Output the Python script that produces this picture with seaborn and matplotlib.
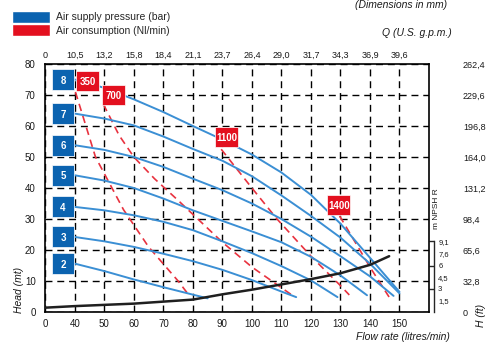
import numpy as np
import pandas as pd
import matplotlib
matplotlib.use("Agg")
import matplotlib.pyplot as plt
import matplotlib.transforms as mtransforms
from matplotlib.patches import Rectangle, Patch
import seaborn as sns

# pump curves: flow (l/min) vs head (m) for each air supply pressure (bar)
pressure_bar = [2, 3, 4, 5, 6, 7, 8]
flow_2 = [40, 50, 60, 70, 80, 85]
head_2 = [15.6, 13.2, 10.5, 8.0, 5.6, 4.4]
flow_3 = [40, 50, 60, 70, 80, 90, 100, 110, 115]
head_3 = [24.2, 22.8, 21.0, 18.8, 16.4, 13.6, 10.3, 6.6, 4.8]
flow_4 = [40, 50, 60, 70, 80, 90, 100, 110, 120, 129]
head_4 = [33.9, 32.8, 31.2, 29.1, 26.4, 22.8, 19.0, 14.8, 10.2, 4.8]
flow_5 = [40, 50, 60, 70, 80, 90, 100, 110, 120, 130, 139]
head_5 = [44.1, 42.4, 40.0, 36.6, 32.8, 29.4, 26.0, 22.5, 17.8, 11.8, 5.4]
flow_6 = [40, 50, 60, 70, 80, 90, 100, 110, 120, 130, 140, 148]
head_6 = [53.8, 52.3, 50.0, 46.8, 43.0, 39.3, 35.0, 30.0, 24.3, 18.0, 11.5, 5.2]
flow_7 = [40, 50, 60, 70, 80, 90, 100, 110, 120, 130, 140, 150]
head_7 = [64.0, 62.4, 60.2, 56.6, 52.6, 48.8, 43.8, 37.6, 31.0, 24.0, 15.6, 6.0]
flow_8 = [40, 50, 60, 70, 80, 90, 100, 110, 120, 130, 140, 150]
head_8 = [75.0, 72.3, 68.6, 64.5, 60.0, 55.6, 50.8, 45.0, 37.8, 28.5, 17.5, 6.5]

# air consumption lines (Nl/min)
air_nl = [350, 700, 1100, 1400]
air_flow_350 = [40.2, 47, 56.5, 65, 75, 79]
air_head_350 = [71, 50, 33, 21, 10, 5]
air_flow_700 = [49.7, 55, 60, 67, 75, 80, 90, 100, 113.5]
air_head_700 = [67, 57, 50, 43, 36, 31.5, 22.5, 14.5, 5.5]
air_flow_1100 = [89.6, 100, 108.5, 120, 130, 133]
air_head_1100 = [52.5, 40, 30, 18, 8.5, 5.5]
air_flow_1400 = [129.7, 135, 140, 146.5]
air_head_1400 = [31, 22.5, 14.5, 4.8]
air_label_pos = [(44.3, 74.6), (53.2, 70.0), (91.5, 56.4), (129.5, 34.6)]

# NPSH R curve (read on the head scale)
npsh_flow = [0, 40, 60, 80, 90, 100, 110, 120, 130, 140, 146.5]
npsh_head = [1.4, 1.9, 2.7, 4.0, 5.7, 7.2, 8.9, 10.6, 12.5, 15.2, 18.0]

x_ticks = [0, 40, 50, 60, 70, 80, 90, 100, 110, 120, 130, 140, 150]
gpm_labels = ["0", "10,5", "13,2", "15,8", "18,4", "21,1", "23,7", "26,4",
              "29,0", "31,7", "34,3", "36,9", "39,6"]
head_ticks = [0, 10, 20, 30, 40, 50, 60, 70, 80]
ft_labels = ["0", "32,8", "65,6", "98,4", "131,2", "164,0", "196,8", "229,6", "262,4"]
npsh_values = [1.5, 3, 4.5, 6, 7.6, 9.1]
npsh_labels = ["1,5", "3", "4,5", "6", "7,6", "9,1"]

box_blue = "#0b63b0"
line_blue = "#3b8fd4"
red = "#e3101f"
red_line = "#e8323f"
txt = "#1a1a1a"

sns.set_style("white")
plt.rcParams["font.family"] = ["Liberation Sans", "DejaVu Sans"]


# flow axis is squeezed between 0 and 40
def fwd(x):
    x = np.asarray(x, dtype=float)
    return np.where(x < 40, x / 40.0, (x - 30.0) / 10.0)


def inv(p):
    p = np.asarray(p, dtype=float)
    return np.where(p < 1, p * 40.0, p * 10.0 + 30.0)


fig = plt.figure(figsize=(4.86, 3.43), dpi=100)
ax = fig.add_axes([45.3 / 486, 31 / 343, 383.7 / 486, 248 / 343])
ax.set_xscale("function", functions=(fwd, inv))

flows = [flow_2, flow_3, flow_4, flow_5, flow_6, flow_7, flow_8]
heads = [head_2, head_3, head_4, head_5, head_6, head_7, head_8]
pump = pd.concat([pd.DataFrame({"flow": f, "head": h, "bar": b})
                  for b, f, h in zip(pressure_bar, flows, heads)])

air_flows = [air_flow_350, air_flow_700, air_flow_1100, air_flow_1400]
air_heads = [air_head_350, air_head_700, air_head_1100, air_head_1400]
air = pd.concat([pd.DataFrame({"flow": f, "head": h, "nl": n})
                 for n, f, h in zip(air_nl, air_flows, air_heads)])

sns.lineplot(data=air, x="flow", y="head", units="nl", estimator=None, sort=False,
             color=red_line, lw=1.2, linestyle=(0, (4.5, 3)), legend=False, ax=ax, zorder=3)
sns.lineplot(data=pump, x="flow", y="head", units="bar", estimator=None, sort=False,
             color=line_blue, lw=1.4, legend=False, ax=ax, zorder=4)
sns.lineplot(x=npsh_flow, y=npsh_head, color="#1f1f1f", lw=1.8, ax=ax, zorder=4)

ax.set_xlim(0, 160)
ax.set_ylim(0, 80)
ax.set_xticks(x_ticks, labels=[str(v) for v in x_ticks])
ax.set_yticks(head_ticks)
ax.set_xlabel("")
ax.set_ylabel("")
ax.grid(True, color="k", lw=1.0, ls=(0, (5, 3.5)))
ax.set_axisbelow(True)
ax.tick_params(length=0, labelsize=7, colors=txt)
ax.tick_params(axis="x", pad=5)
ax.tick_params(axis="y", pad=7)
for s in ax.spines.values():
    s.set_color("k")
    s.set_linewidth(1.2)


def tag(x, y, text, color, w=23, h=20):
    tr = mtransforms.ScaledTranslation(x, y, ax.transData)
    ax.add_patch(Rectangle((-w / 2, -h / 2), w, h, transform=tr, facecolor=color,
                           edgecolor="white", lw=0.5, zorder=6, clip_on=False))
    ax.text(x, y, text, ha="center", va="center_baseline", color="white",
            fontsize=7, fontweight="bold", zorder=7)


for b, h in zip(pressure_bar, heads):
    tag(24, h[0], str(b), box_blue, w=22, h=21)
for n, (lx, ly) in zip(air_nl, air_label_pos):
    tag(lx, ly, str(n), red)

# top axis in U.S. gpm
top = ax.twiny()
top.set_xscale("function", functions=(fwd, inv))
top.set_xlim(0, 160)
top.set_xticks(x_ticks, labels=gpm_labels)
top.tick_params(length=0, pad=3, labelsize=6.5, colors=txt)
for s in top.spines.values():
    s.set_visible(False)

# NPSH R scale
npsh = ax.secondary_yaxis(1.013, functions=(lambda y: y / 2.5, lambda v: v * 2.5))
npsh.yaxis.remove_overlapping_locs = False
npsh.set_yticks(npsh_values, labels=npsh_labels)
npsh.set_yticks([3, 6, 9.15], minor=True)
npsh.tick_params(which="major", length=0, pad=3, labelsize=5.5, colors=txt)
npsh.tick_params(which="minor", direction="in", length=3.6, width=1.0)
npsh.spines["right"].set_bounds(0, 9.15)
npsh.spines["right"].set_linewidth(1.0)
ax.text(1.019, 33.5, "m NPSH R", transform=mtransforms.blended_transform_factory(ax.transAxes, ax.transData),
        rotation=90, ha="center", va="center", fontsize=6, color=txt)

# head in feet
ft = ax.secondary_yaxis(1.0886)
ft.set_yticks(head_ticks, labels=ft_labels)
ft.spines["right"].set_visible(False)
ft.tick_params(length=0, pad=0, labelsize=6.5, colors=txt)

fig.text(19 / 486, 1 - 290 / 343, "Head (mt)", rotation=90, ha="center", va="center",
         fontsize=7.5, style="italic", color=txt)
fig.text(450 / 486, 1 - 337 / 343, "Flow rate (litres/min)", ha="right", va="center",
         fontsize=7.5, style="italic", color=txt)
fig.text(481 / 486, 1 - 315 / 343, "H (ft)", rotation=90, ha="center", va="center",
         fontsize=7.5, style="italic", color=txt)
fig.text(452 / 486, 1 - 33 / 343, "Q (U.S. g.p.m.)", ha="right", va="center",
         fontsize=7.5, style="italic", color=txt)
fig.text(447 / 486, 1 - 5 / 343, "(Dimensions in mm)", ha="right", va="center",
         fontsize=7.5, style="italic", color=txt)

handles = [Patch(facecolor=box_blue), Patch(facecolor=red)]
fig.legend(handles, ["Air supply pressure (bar)", "Air consumption (Nl/min)"],
           loc="upper left", bbox_to_anchor=(12 / 486, 1 - 11 / 343), frameon=False,
           fontsize=7.5, handlelength=3.6, handleheight=1.4, labelspacing=0.12,
           handletextpad=0.6, borderpad=0, borderaxespad=0)

fig.savefig("out.png", dpi=100)
